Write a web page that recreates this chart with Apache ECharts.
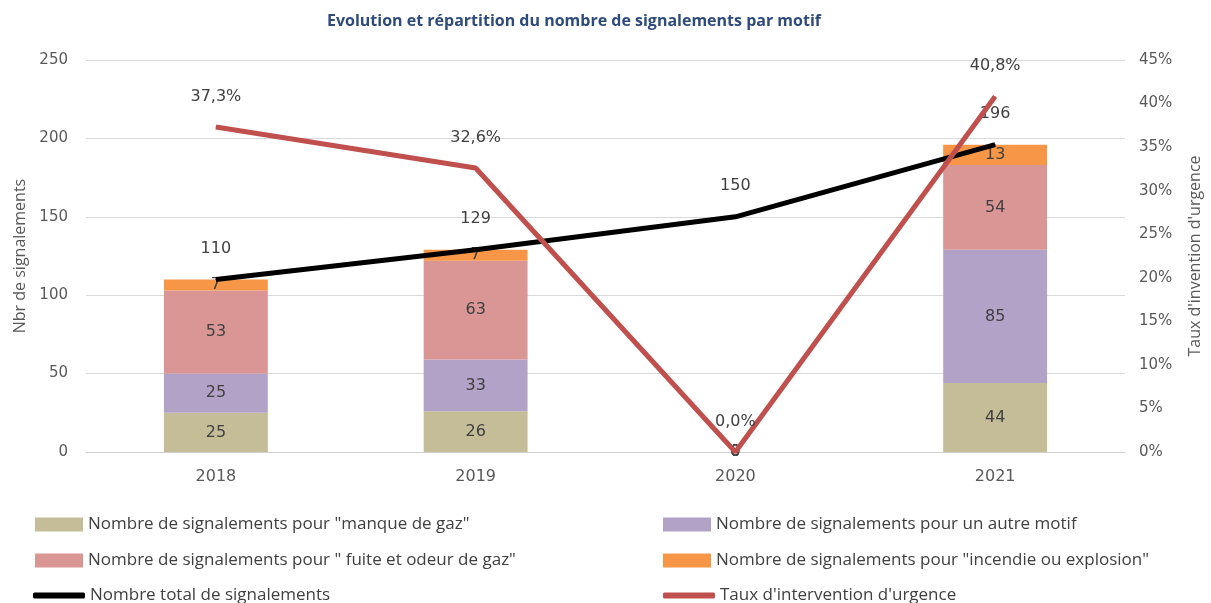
<!DOCTYPE html>
<html>
<head>
<meta charset="utf-8">
<script src="https://cdn.jsdelivr.net/npm/echarts@6/dist/echarts.min.js"></script>
<style>
  html, body { margin: 0; padding: 0; background: #fff; }
  #main { width: 1211px; height: 603px; }
</style>
</head>
<body>
<div id="main"></div>
<script>
const years = ['2018', '2019', '2020', '2021']
const manqueGaz = [25, 26, 0, 44]
const autreMotif = [25, 33, 0, 85]
const fuiteOdeur = [53, 63, 0, 54]
const incendie = [7, 7, 0, 13]
const totalSignalements = [110, 129, 150, 196]
const tauxUrgence = [37.3, 32.6, 0, 40.8]
const leftTicks = [0, 50, 100, 150, 200, 250]

const NUM_FONT = 'DejaVu Sans'
const TXT_FONT = 'Open Sans'
const TXT = '#404040'
const AXIS = '#595959'

const names = {
  manque: 'Nombre de signalements pour "manque de gaz"',
  autre: 'Nombre de signalements pour un autre motif',
  fuite: 'Nombre de signalements pour " fuite et odeur de gaz"',
  incendie: 'Nombre de signalements pour "incendie ou explosion"',
  total: 'Nombre total de signalements',
  taux: "Taux d'intervention d'urgence",
}

function barSerie(name, data, color) {
  return {
    name,
    type: 'bar',
    stack: 'motifs',
    barWidth: '40%',
    data,
    itemStyle: { color },
    label: { show: true, position: 'inside', color: TXT, fontFamily: NUM_FONT, fontSize: 16 },
    z: 2,
  }
}

function lineLabel(formatter) {
  return {
    show: true,
    position: 'top',
    distance: 22,
    color: TXT,
    fontFamily: NUM_FONT,
    fontSize: 16,
    formatter,
  }
}

const legendText = { color: TXT, fontFamily: TXT_FONT, fontSize: 17 }

const chart = echarts.init(document.getElementById('main'))
chart.setOption({
  animation: false,
  title: {
    text: 'Evolution et répartition du nombre de signalements par motif',
    left: 322,
    top: 8,
    textStyle: { color: '#2f4b7c', fontFamily: TXT_FONT, fontSize: 16, fontWeight: 'bold' },
  },
  grid: { left: 86, right: 85, top: 60, bottom: 151 },
  legend: [
    { left: 30, top: 511, orient: 'vertical', itemGap: 19, itemWidth: 48, itemHeight: 14, icon: 'rect', textStyle: legendText, data: [names.manque, names.fuite] },
    { left: 658, top: 511, orient: 'vertical', itemGap: 19, itemWidth: 48, itemHeight: 14, icon: 'rect', textStyle: legendText, data: [names.autre, names.incendie] },
    { left: 28, top: 582, itemWidth: 52, itemHeight: 6, icon: 'roundRect', textStyle: legendText, data: [names.total] },
    { left: 658, top: 582, itemWidth: 52, itemHeight: 6, icon: 'roundRect', textStyle: legendText, data: [names.taux] },
  ],
  xAxis: {
    type: 'category',
    data: years,
    axisLine: { lineStyle: { color: '#d0d0d0' } },
    axisTick: { show: false },
    axisLabel: { color: AXIS, fontFamily: NUM_FONT, fontSize: 16, margin: 17 },
  },
  yAxis: [
    {
      type: 'value',
      min: leftTicks[0],
      max: leftTicks[leftTicks.length - 1],
      interval: 50,
      name: 'Nbr de signalements',
      nameLocation: 'middle',
      nameGap: 58,
      nameTextStyle: { color: AXIS, fontFamily: TXT_FONT, fontSize: 16 },
      axisLabel: { color: AXIS, fontFamily: NUM_FONT, fontSize: 15, margin: 18 },
      splitLine: { lineStyle: { color: '#d9d9d9' } },
    },
    {
      type: 'value',
      min: 0,
      max: 45,
      interval: 5,
      name: "Taux d'invention d'urgence",
      nameLocation: 'middle',
      nameGap: 62,
      nameRotate: 90,
      nameTextStyle: { color: AXIS, fontFamily: TXT_FONT, fontSize: 16 },
      axisLabel: { color: AXIS, fontFamily: NUM_FONT, fontSize: 15, margin: 14, formatter: '{value}%' },
      splitLine: { show: false },
    },
  ],
  series: [
    barSerie(names.manque, manqueGaz, '#c4bd97'),
    barSerie(names.autre, autreMotif, '#b3a2c7'),
    barSerie(names.fuite, fuiteOdeur, '#d99694'),
    barSerie(names.incendie, incendie, '#f79646'),
    {
      name: names.total,
      type: 'line',
      data: totalSignalements,
      symbol: 'circle',
      symbolSize: 1,
      showSymbol: true,
      lineStyle: { color: '#000', width: 5 },
      itemStyle: { color: '#000' },
      label: lineLabel(),
      labelLayout: { hideOverlap: false },
      z: 3,
    },
    {
      name: names.taux,
      type: 'line',
      yAxisIndex: 1,
      data: tauxUrgence,
      symbol: 'circle',
      symbolSize: 1,
      showSymbol: true,
      lineStyle: { color: '#c0504d', width: 5 },
      itemStyle: { color: '#c0504d' },
      label: lineLabel((p) => p.value.toFixed(1).replace('.', ',') + '%'),
      labelLayout: { hideOverlap: false },
      z: 4,
    },
  ],
})
</script>
</body>
</html>
